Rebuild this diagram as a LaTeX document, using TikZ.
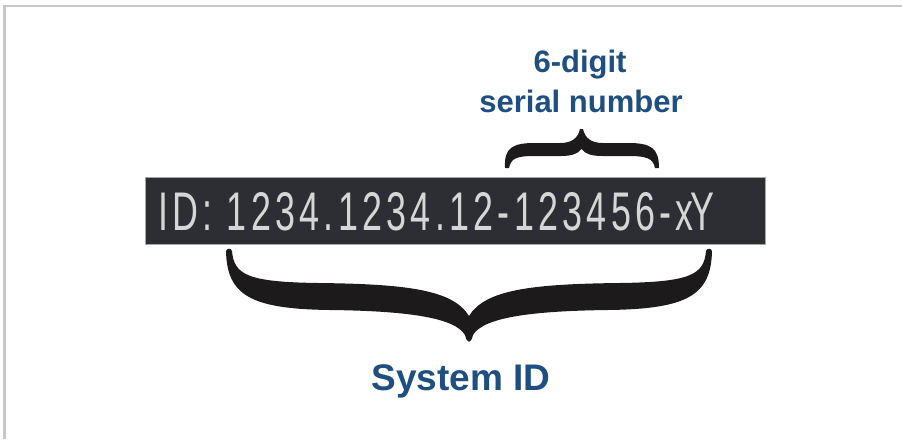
\documentclass[tikz,border=0pt]{standalone}
\usepackage{fontspec}
\setmainfont{Liberation Sans}
\newfontfamily\idfont[LetterSpace=12]{Liberation Sans}
\usepackage{graphicx}
\definecolor{frame}{HTML}{C8C8C8}
\definecolor{boxfill}{HTML}{2C2E33}
\definecolor{idtext}{HTML}{D6D6D6}
\definecolor{labelblue}{HTML}{1E4F80}
\definecolor{bracefill}{HTML}{1C1A1B}
\tikzset{
  labeltext/.style={text=labelblue, inner sep=0pt, anchor=base},
  bracestyle/.style={fill=bracefill, draw=none},
}
\begin{document}
\begin{tikzpicture}[x=1pt,y=-1pt]
\useasboundingbox (0,0) rectangle (902,439);
\fill[white] (0,0) rectangle (902,439);
% frame lines
\draw[frame, line width=2.5pt] (4.5,439) -- (4.5,6) -- (902,6);
% dark ID box
\node[fill=boxfill, draw=gray!70, line width=0.8pt, minimum width=620pt, minimum height=67pt, inner sep=0pt]
  (idbox) at (455,210.5) {};
\node[anchor=base west, inner sep=0pt, text=idtext] (idtext) at (158,230)
  {\resizebox{556pt}{38pt}{\idfont ID: 1234.1234.12-123456-x\kern-1pt Y}};
% top brace (serial number)
\path[bracestyle] (505,168) .. controls (504,148) and (512,143) .. (535,143) -- (560,143)
  .. controls (572,143) and (578,138) .. (580,129) -- (583,129)
  .. controls (585,138) and (591,143) .. (603,143) -- (628,143)
  .. controls (651,143) and (659,148) .. (659,168) -- (655,168)
  .. controls (653,158) and (646,156) .. (628,156) -- (602,156)
  .. controls (592,156) and (585,154) .. (581.5,149)
  .. controls (578,154) and (571,156) .. (561,156) -- (535,156)
  .. controls (517,156) and (511,158) .. (509,168) -- cycle;
% bottom brace (system ID)
\path[bracestyle] (226,251) .. controls (227,295) and (250,309) .. (330,310)
  .. controls (410,311) and (455,318) .. (465,335)
  .. controls (467,344) and (471,344) .. (473,335)
  .. controls (483,318) and (528,311) .. (608,310)
  .. controls (688,309) and (711,295) .. (712,251)
  .. controls (711,248) and (707,248) .. (706,251)
  .. controls (704,275) and (690,282) .. (620,283)
  .. controls (530,284) and (485,290) .. (469,316)
  .. controls (453,290) and (408,284) .. (318,283)
  .. controls (248,282) and (234,275) .. (232,251)
  .. controls (231,248) and (227,248) .. (226,251) -- cycle;
% labels
\node[labeltext, font=\bfseries\fontsize{31}{36}\selectfont] (digits) at (580,72) {6-digit};
\node[labeltext, font=\bfseries\fontsize{31}{36}\selectfont] (serial) at (581,112) {serial number};
\node[labeltext, font=\bfseries\fontsize{37}{44}\selectfont] (sysid) at (461,390) {System ID};
\end{tikzpicture}
\end{document}
